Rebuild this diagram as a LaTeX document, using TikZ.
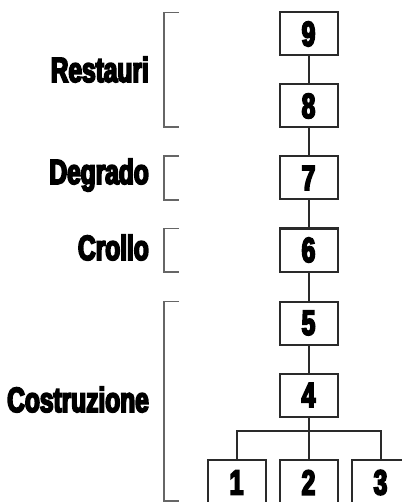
\documentclass[tikz,border=0pt]{standalone}
\usepackage{fontspec}
\newfontfamily\lab[FakeStretch=0.7,FakeBold=5]{Liberation Sans}
\definecolor{boxc}{HTML}{2A2A2A}
\definecolor{brc}{HTML}{666666}
\begin{document}
\begin{tikzpicture}[x=1pt,y=-1pt,
  numbox/.style={draw=boxc,line width=2pt,minimum width=58pt,minimum height=43pt,inner sep=0pt,font=\lab\bfseries\fontsize{35}{35}\selectfont},
  conn/.style={draw=boxc,line width=2pt},
  brk/.style={draw=brc,line width=1.9pt},
  phase/.style={anchor=base east,inner sep=0pt,font=\lab\bfseries\fontsize{35}{35}\selectfont}]
\useasboundingbox (0,0) rectangle (401,502);
\node[numbox] (n9) at (308.5,34) {9};
\node[numbox] (n8) at (308.5,106) {8};
\node[numbox] (n7) at (308.5,178) {7};
\node[numbox] (n6) at (308.5,250) {6};
\node[numbox] (n5) at (308.5,323) {5};
\node[numbox] (n4) at (308.5,395) {4};
\node[numbox,minimum height=46pt] (n1) at (236.5,482.5) {1};
\node[numbox,minimum height=46pt] (n2) at (308.5,482.5) {2};
\node[numbox,minimum height=46pt] (n3) at (380.5,482.5) {3};
\draw[conn] (n9) -- (n8);
\draw[conn] (n8) -- (n7);
\draw[conn] (n7) -- (n6);
\draw[conn] (n6) -- (n5);
\draw[conn] (n5) -- (n4);
\coordinate (bar) at (308.5,431);
\draw[conn] (n4.south) -- (bar);
\draw[conn] (n1.north) |- (bar) -| (n3.north);
\draw[conn] (bar) -- (n2.north);
% brackets
\coordinate (r1) at (179,12.5); \coordinate (r2) at (179,127);
\coordinate (d1) at (179,156); \coordinate (d2) at (179,200);
\coordinate (c1) at (179,228.5); \coordinate (c2) at (179,272);
\coordinate (s1) at (179,301.5); \coordinate (s2) at (179,501);
\draw[brk] (r1) -- ++(-15,0) |- (r2);
\draw[brk] (d1) -- ++(-15,0) |- (d2);
\draw[brk] (c1) -- ++(-15,0) |- (c2);
\draw[brk] (s1) -- ++(-15,0) |- (s2);
\node[phase] (lr) at (149,82) {Restauri};
\node[phase] (ld) at (149,184) {Degrado};
\node[phase] (lc) at (149,260) {Crollo};
\node[phase] (ls) at (149,412) {Costruzione};
\end{tikzpicture}
\end{document}
